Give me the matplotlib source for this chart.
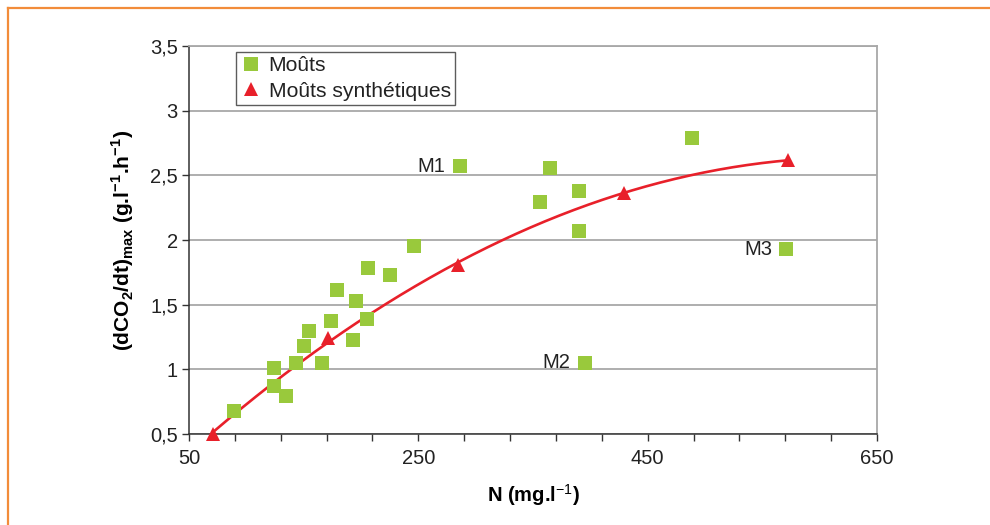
import numpy as np
import matplotlib
matplotlib.use("Agg")
import matplotlib.pyplot as plt
from matplotlib.lines import Line2D

plt.rcParams['font.family'] = ['Liberation Sans', 'DejaVu Sans']
plt.rcParams['mathtext.fontset'] = 'custom'
plt.rcParams['mathtext.rm'] = 'Liberation Sans'
plt.rcParams['mathtext.bf'] = 'Liberation Sans:bold'

# Moûts (must) data
mouts_n = [89, 124, 124, 135, 143, 150, 155, 166, 174, 179, 193, 196, 205, 206, 225, 246,
           286, 356, 365, 390, 390, 395, 489, 571]
mouts_v = [0.68, 1.01, 0.87, 0.79, 1.05, 1.18, 1.30, 1.05, 1.37, 1.61, 1.23, 1.53, 1.39, 1.78,
           1.73, 1.95, 2.57, 2.29, 2.56, 2.38, 2.07, 1.05, 2.79, 1.93]

# Moûts synthétiques
synth_n = [71, 171, 285, 429, 572]
synth_v = [0.50, 1.24, 1.81, 2.36, 2.62]

# Labelled points
labels = ["M1", "M2", "M3"]
label_n = [286, 395, 571]
label_v = [2.57, 1.05, 1.93]

x_major = [50, 250, 450, 650]
y_ticks = [0.5, 1, 1.5, 2, 2.5, 3, 3.5]
y_ticklabels = ["0,5", "1", "1,5", "2", "2,5", "3", "3,5"]

green = "#99C93C"
red = "#E8202A"

fig = plt.figure(figsize=(9.9, 5.25), dpi=100)
ax = fig.add_axes([189/990, 1-434/525, (877-189)/990, (434-46)/525])

# orange frame
fig.add_artist(Line2D([8/990, 1], [1-8/525, 1-8/525], color="#F28C3A", lw=1.6))
fig.add_artist(Line2D([8/990, 8/990], [0, 1-8/525], color="#F28C3A", lw=1.6))

ax.set_xlim(50, 650)
ax.set_ylim(0.5, 3.5)
ax.set_yticks(y_ticks)
ax.set_yticklabels(y_ticklabels)
ax.set_xticks(x_major)
ax.set_xticks(np.arange(50, 651, 40), minor=True)
ax.tick_params(axis='both', which='major', length=5, width=1, color="#333333",
               labelsize=14.5, labelcolor="#222222", direction='out')
ax.tick_params(axis='x', which='minor', length=5, width=1, color="#333333", direction='out')
ax.tick_params(axis='x', pad=6)
ax.tick_params(axis='y', pad=3)

ax.grid(axis='y', color="#A8A8A8", lw=1.3)
ax.set_axisbelow(True)
for s in ['top', 'right']:
    ax.spines[s].set_color("#A8A8A8")
    ax.spines[s].set_linewidth(1.3)
for s in ['left', 'bottom']:
    ax.spines[s].set_color("#333333")
    ax.spines[s].set_linewidth(1.1)

# trend curve (quadratic fit of the synthetic points)
coef = np.polyfit(synth_n, synth_v, 2)
xs = np.linspace(min(synth_n), max(synth_n), 200)
ax.plot(xs, np.polyval(coef, xs), color=red, lw=1.9, zorder=3)

ax.plot(mouts_n, mouts_v, linestyle='none', marker='s', ms=10, color=green,
        markeredgewidth=0, label="Moûts", zorder=4)
ax.plot(synth_n, synth_v, linestyle='none', marker='^', ms=10, color=red,
        markeredgewidth=0, label="Moûts synthétiques", zorder=5, clip_on=False)

for t, xn, yv in zip(labels, label_n, label_v):
    ax.annotate(t, (xn, yv), xytext=(-10, 0), textcoords='offset points',
                ha='right', va='center', fontsize=14.5, color="#222222")

leg = ax.legend(loc='upper left', bbox_to_anchor=((236-189)/688, 1-(52-46)/388),
                fontsize=15.2, frameon=True, fancybox=False, borderpad=0.2,
                handletextpad=0.35, handlelength=1.0, labelspacing=0.3,
                borderaxespad=0)
leg.get_frame().set_edgecolor("#333333")
leg.get_frame().set_linewidth(1.0)
for txt in leg.get_texts():
    txt.set_color("#222222")

ax.set_xlabel(r"N (mg.l$^{-1}$)", fontsize=14.5, fontweight='bold', labelpad=10)
ax.set_ylabel(r"(dCO$_\mathbf{2}$/dt)$_\mathbf{max}$ (g.l$^\mathbf{-1}$.h$^\mathbf{-1}$)",
              fontsize=15, fontweight='bold', labelpad=10)

fig.savefig("out.png", dpi=100)
